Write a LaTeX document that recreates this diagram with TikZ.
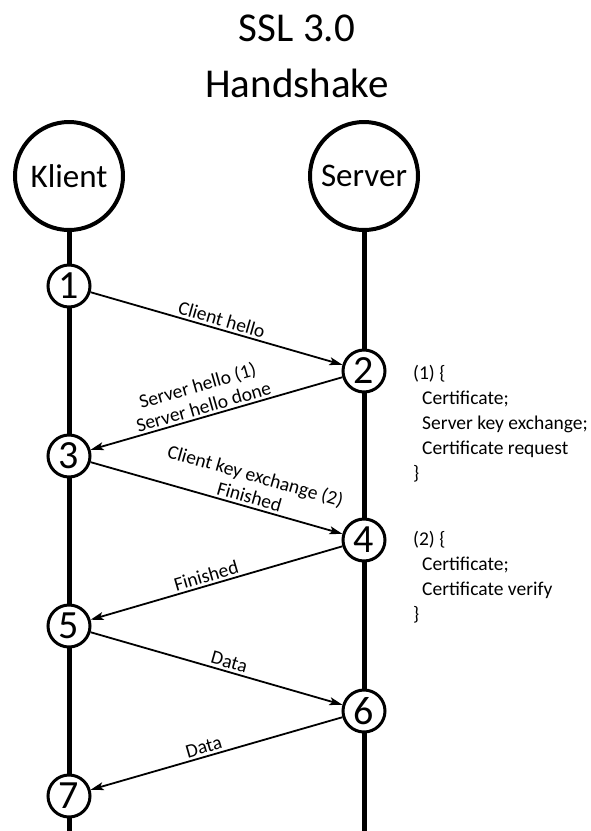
\documentclass[tikz,border=0pt]{standalone}
\usepackage{fontspec}
\setmainfont{Carlito}
\usetikzlibrary{arrows.meta}

\begin{document}
\begin{tikzpicture}[x=1pt, y=-1pt, >={Stealth[length=13pt,width=8pt,inset=3pt]},
  party/.style={draw, circle, line width=4pt, minimum size=108pt, inner sep=0pt, font=\fontsize{33}{40}\selectfont},
  stepnum/.style={draw, circle, fill=white, line width=3pt, minimum size=42pt, inner sep=0pt, font=\fontsize{40}{48}\selectfont},
  life/.style={line width=5pt},
  msg/.style={->, line width=1.8pt},
  lbl/.style={sloped, above, align=center, inner sep=2.5pt, font=\fontsize{19.5}{22}\selectfont},
  note/.style={align=left, inner sep=0pt, anchor=base west, font=\fontsize{19.5}{25}\selectfont}]
  \useasboundingbox (0,0) rectangle (590,831);
  \node[font=\fontsize{41}{50}\selectfont, anchor=base] (title) at (297,41) {SSL 3.0};
  \node[font=\fontsize{41}{50}\selectfont, anchor=base] (title2) at (297,97) {Handshake};
  \node[party] (klient) at (69,176) {Klient};
  \node[party] (server) at (364,176) {Server};
  \coordinate (kend) at (69,831);
  \coordinate (send) at (364,831);
  \draw[life] (klient.south) -- (kend);
  \draw[life] (server.south) -- (send);
  % steps
  \node[stepnum] (s1) at (69,286) {1};
  \node[stepnum] (s2) at (364,371) {2};
  \node[stepnum] (s3) at (69,456) {3};
  \node[stepnum] (s4) at (364,540) {4};
  \node[stepnum] (s5) at (69,626) {5};
  \node[stepnum] (s6) at (364,711) {6};
  \node[stepnum] (s7) at (69,796) {7};
  % messages
  \draw[msg] (s1) -- node[lbl, pos=0.51] (l1) {Client hello} (s2);
  \draw[msg] (s2) -- node[lbl, pos=0.54] (l2) {Server hello (1)\\Server hello done} (s3);
  \draw[msg] (s3) -- node[lbl, pos=0.62] (l3) {Client key exchange (2)\\Finished} (s4);
  \draw[msg] (s4) -- node[lbl, pos=0.53] (l4) {Finished} (s5);
  \draw[msg] (s5) -- node[lbl, pos=0.54] (l5) {Data} (s6);
  \draw[msg] (s6) -- node[lbl, pos=0.54] (l6) {Data} (s7);
  % notes (base = last line)
  \node[note] (note1) at (413,479) {(1) \{\\\hspace*{9pt}Certificate;\\\hspace*{9pt}Server key exchange;\\\hspace*{9pt}Certificate request\\\}};
  \node[note] (note2) at (413,620) {(2) \{\\\hspace*{9pt}Certificate;\\\hspace*{9pt}Certificate verify\\\}};
\end{tikzpicture}
\end{document}
